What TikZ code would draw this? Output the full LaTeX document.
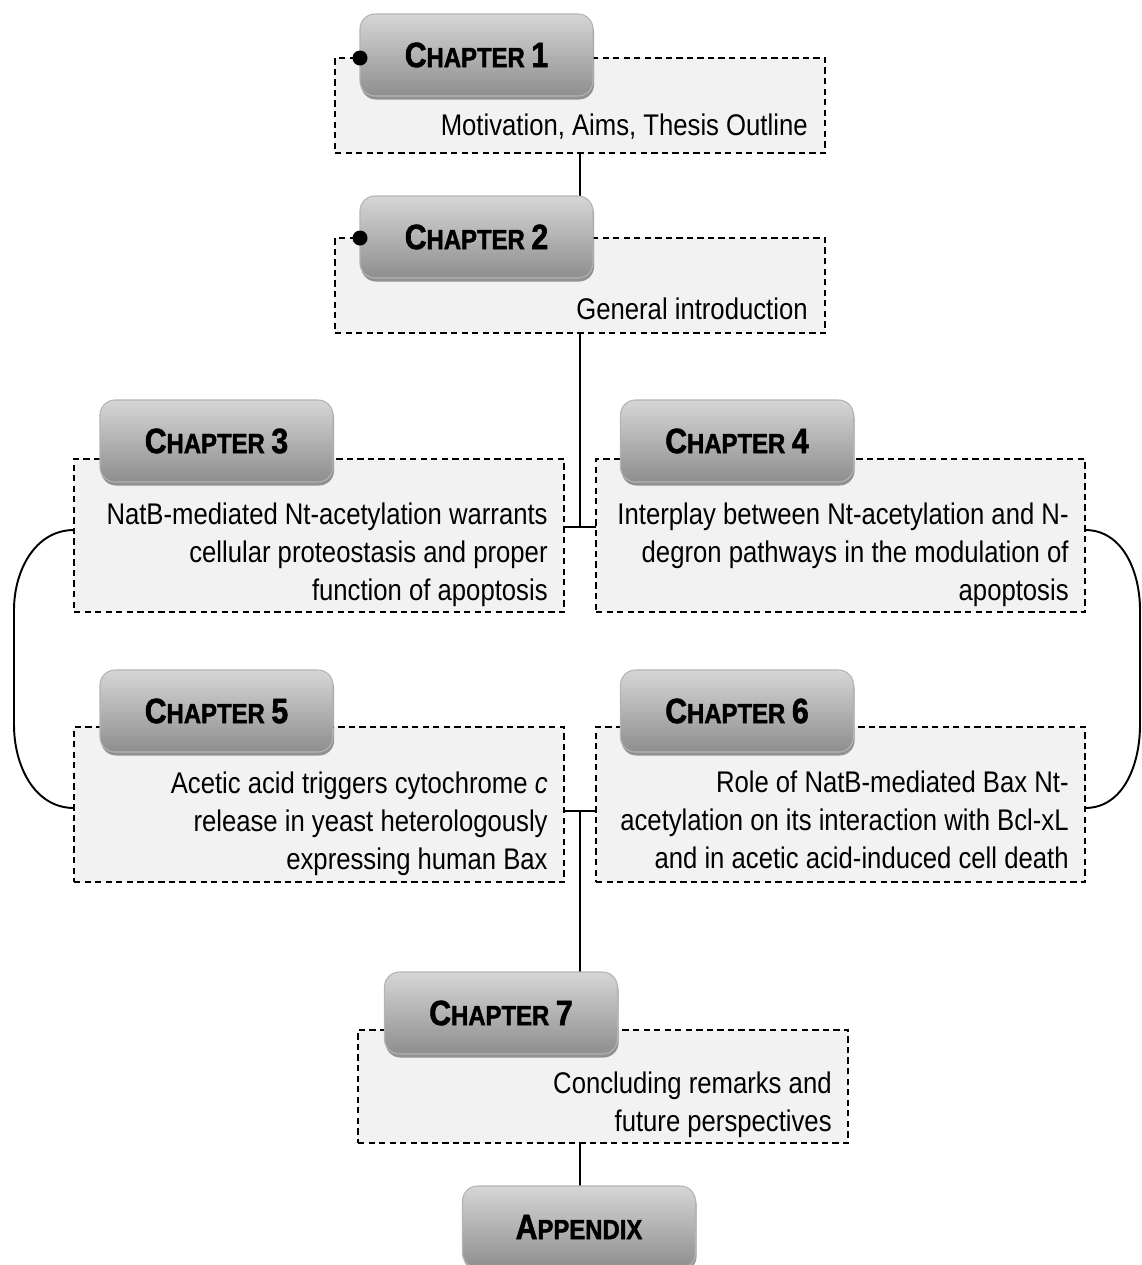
\documentclass[tikz,border=0pt]{standalone}
\usepackage{fontspec}
\setmainfont{Liberation Sans}[FakeStretch=0.86]
\newfontfamily\titlefont{Liberation Sans Bold}[FakeStretch=0.86, FakeBold=1.6]
\usetikzlibrary{calc,shadows}
\definecolor{boxfill}{HTML}{F2F2F2}
\definecolor{gtop}{HTML}{D6D6D6}
\definecolor{gmid}{HTML}{A8A8A8}
\definecolor{gbot}{HTML}{8E8E8E}
\definecolor{gedge}{HTML}{B4B4B4}
\newcommand\uu{0.02cm}
\newcommand\chaptitle[1]{{\titlefont\fontsize{20}{22}\selectfont C\fontsize{15.8}{22}\selectfont HAPTER \fontsize{20}{22}\selectfont #1}}
\newcommand\mydbox[5]{%
  \node[dbox, minimum width={(#4-#2)*\uu}, minimum height={(#5-#3)*\uu}] (#1) at ({(#2+#4)/2},{(#3+#5)/2}) {};}
\tikzset{
  dbox/.style={draw=black, dash pattern=on 3.6pt off 2.4pt, line width=0.7pt, fill=boxfill, inner sep=0pt, outer sep=0pt},
  gbox/.style={rounded corners=0.3cm, draw=gedge, line width=0.6pt, top color=gtop, middle color=gmid, bottom color=gbot,
     minimum width={233*\uu}, minimum height={82*\uu}, inner sep=0pt, outer sep=0pt,
     drop shadow={shadow xshift=0.6pt, shadow yshift=-2pt, opacity=0.4, fill=black}},
  txt/.style={align=right, inner sep=0pt, anchor=south east, font=\fontsize{17}{21.6}\selectfont},
  conn/.style={draw=black, line width=1.1pt},
  dotn/.style={circle, fill=black, inner sep=0pt, minimum size={15*\uu}},
}
\begin{document}
\begin{tikzpicture}[x=0.02cm, y=-0.02cm]
\useasboundingbox (0,0) rectangle (1142,1265);
% dashed boxes
\mydbox{d1}{335}{58}{825}{153}
\mydbox{d2}{335}{238}{825}{333}
\mydbox{d3}{74}{459}{564}{612}
\mydbox{d4}{596}{459}{1085}{612}
\mydbox{d5}{74}{727}{564}{882}
\mydbox{d6}{596}{727}{1085}{882}
\mydbox{d7}{358}{1030}{848}{1143}
% texts
\node[txt] (t1) at ($(d1.south east)+(-17,-13)$) {Motivation, Aims, Thesis Outline};
\node[txt] (t2) at ($(d2.south east)+(-17,-13)$) {General introduction};
\node[txt] (t3) at ($(d3.south east)+(-16,-5)$) {NatB-mediated Nt-acetylation warrants\\cellular proteostasis and proper\\function of apoptosis};
\node[txt] (t4) at ($(d4.south east)+(-16,-5)$) {Interplay between Nt-acetylation and N-\\degron pathways in the modulation of\\apoptosis};
\node[txt] (t5) at ($(d5.south east)+(-16,-6)$) {Acetic acid triggers cytochrome \emph{c}\\release in yeast heterologously\\expressing human Bax};
\node[txt] (t6) at ($(d6.south east)+(-16,-13)$) {Role of NatB-mediated Bax Nt-\\acetylation on its interaction with Bcl-xL\\and in acetic acid-induced cell death};
\node[txt] (t7) at ($(d7.south east)+(-16,-5)$) {Concluding remarks and\\future perspectives};
% junction coordinates
\coordinate (j1) at (580,527);
\coordinate (j2) at (580,811);
% connectors
\draw[conn] (d1.south) -- (d1.south |- 580,197);
\draw[conn] (d2.south) -- (j1);
\draw[conn] (d3.east |- j1) -- (d4.west |- j1);
\draw[conn] (d5.east |- j2) -- (d6.west |- j2);
\draw[conn] (j2) -- (580,972);
\draw[conn] (d7.south -| j2) -- (580,1186);
\draw[conn] (d3.west |- 0,530) to[out=180,in=90] (14,610) -- (14,725) to[out=-90,in=180] (d5.west |- 0,808);
\draw[conn] (d4.east |- 0,530) to[out=0,in=90] (1140,610) -- (1140,725) to[out=-90,in=0] (d6.east |- 0,808);
% gray chapter boxes
\node[gbox] (g1) at (476.5,55) {\chaptitle{1}};
\node[gbox] (g2) at (476.5,237) {\chaptitle{2}};
\node[gbox] (g3) at (216.5,441) {\chaptitle{3}};
\node[gbox] (g4) at (737,441) {\chaptitle{4}};
\node[gbox] (g5) at (216.5,711) {\chaptitle{5}};
\node[gbox] (g6) at (737,711) {\chaptitle{6}};
\node[gbox] (g7) at (501,1013) {\chaptitle{7}};
\node[gbox] (g8) at (579,1227) {{\titlefont\fontsize{20}{22}\selectfont A\fontsize{15.8}{22}\selectfont PPENDIX}};
% dots
\node[dotn] (p1) at (g1.west |- d1.north) {};
\node[dotn] (p2) at (g2.west |- d2.north) {};
\end{tikzpicture}
\end{document}
